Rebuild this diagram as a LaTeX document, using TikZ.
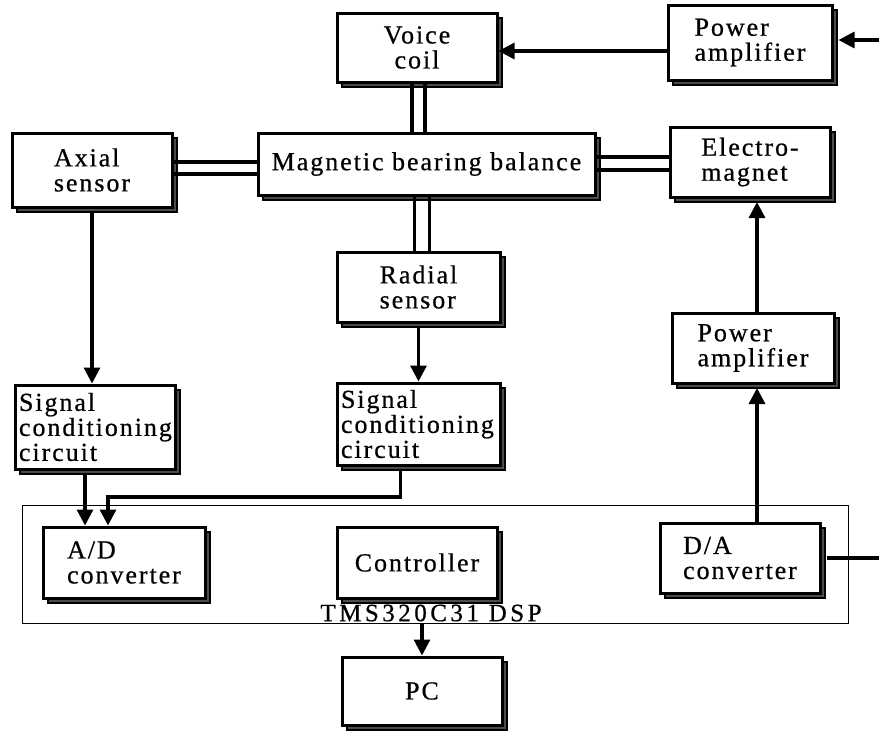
\documentclass[tikz,border=0pt]{standalone}
\usepackage{fontspec}
\setmainfont{Liberation Serif}[LetterSpace=7.5,FakeBold=0.6]
\newfontfamily\boardfont{Liberation Serif}[LetterSpace=14,FakeBold=0.6]
\usetikzlibrary{arrows.meta,shadows}

\begin{document}
\begin{tikzpicture}[x=1pt,y=-1pt,
  blk/.style={draw, line width=3pt, fill=white, inner sep=0pt,
    drop shadow={shadow xshift=5pt, shadow yshift=-5pt, fill=black!70,
      draw=black, line width=1.2pt, opacity=1},
    font=\fontsize{26}{25}\selectfont, align=left},
  wire/.style={line width=3.2pt},
  arr/.style={wire, -{Triangle[width=16pt,length=16pt]}},
  frame/.style={draw, line width=1pt}]
\useasboundingbox (0,0) rectangle (879,732);

% DSP board outline and label
\node[frame, minimum width=826pt, minimum height=118pt, inner sep=0pt] (dsp) at (435,564) {};
\node[font=\boardfont\fontsize{25}{25}\selectfont, inner sep=0pt]
  (dsplabel) at (431,613) {TMS320C31 DSP};

% Blocks
\node[blk, align=center, minimum width=160pt, minimum height=69pt] (voice)  at (417,47.5)  {Voice\\coil};
\node[blk, minimum width=164pt, minimum height=75pt] (pa1)    at (750,42.5)  {Power\\amplifier};
\node[blk, minimum width=160pt, minimum height=74pt] (axial)  at (92,170)    {Axial\\sensor};
\node[blk, align=center, minimum width=337pt, minimum height=62pt] (mbb) at (426.5,164) {Magnetic bearing balance};
\node[blk, minimum width=160pt, minimum height=70pt] (em)     at (750,162)   {Electro-\\magnet};
\node[blk, minimum width=163pt, minimum height=70pt] (radial) at (418.5,287)  {Radial\\sensor};
\node[blk, text width=152pt, inner xsep=4pt, minimum height=84pt] (sc1) at (95,427) {Signal\\conditioning\\circuit};
\node[blk, text width=155pt, inner xsep=4pt, minimum height=82pt] (sc2) at (418.5,424) {Signal\\conditioning\\circuit};
\node[blk, minimum width=162pt, minimum height=70pt] (pa2)    at (753,348) {Power\\amplifier};
\node[blk, minimum width=162pt, minimum height=71pt] (ad)     at (124,562.5) {A/D\\converter};
\node[blk, align=center, minimum width=160pt, minimum height=71pt] (ctrl) at (417,562.5) {Controller};
\node[blk, minimum width=160pt, minimum height=70pt] (da)     at (740,558)   {D/A\\converter};
\node[blk, align=center, minimum width=160pt, minimum height=68pt] (pc) at (422,691) {PC};

% Off-sheet ends on the right
\coordinate (inR)  at (879,40);
\coordinate (outR) at (879,558);
\coordinate (bus)  at (0,497);

% Mechanical couplings (double lines)
\foreach \dx in {-5,8} {
  \draw[wire] ([xshift=\dx]voice.south) -- ([xshift=\dx]voice.south |- mbb.north);
}
\foreach \dx in {-4,11} {
  \draw[wire] ([xshift=\dx]mbb.south -| radial.north) -- ([xshift=\dx]radial.north);
}
\foreach \y in {162,174} {
  \draw[wire] (axial.east |- {(0,\y)}) -- (mbb.west |- {(0,\y)});
}
\foreach \y in {157,170} {
  \draw[wire] (mbb.east |- {(0,\y)}) -- (em.west |- {(0,\y)});
}

% Signal paths
\draw[arr] (inR) -- ([xshift=5]pa1.east |- inR);
\draw[arr] (pa1.west |- {(0,51)}) -- (voice.east |- {(0,51)});
\draw[arr] (axial.south |- {(0,212)}) -- (axial.south |- sc1.north);
\draw[arr] (radial.south |- {(0,327)}) -- (radial.south |- sc2.north);
\draw[arr] ([xshift=-10]sc1.south |- {(0,474)}) -- ([xshift=-10]sc1.south |- ad.north);
\draw[arr] ([xshift=-18]sc2.south |- {(0,470)}) |- ([xshift=-16]ad.north |- bus) -- ([xshift=-16]ad.north);
\draw[arr] ([xshift=17]da.north) -- ([xshift=17]da.north |- {(0,388)});
\draw[arr] ([xshift=4]pa2.north) -- ([xshift=4]pa2.north |- {(0,202)});
\draw[wire] ([xshift=5]da.east) -- (da.east -| outR);
\draw[arr] (dsp.south -| pc.north) -- (pc.north);
\end{tikzpicture}
\end{document}
